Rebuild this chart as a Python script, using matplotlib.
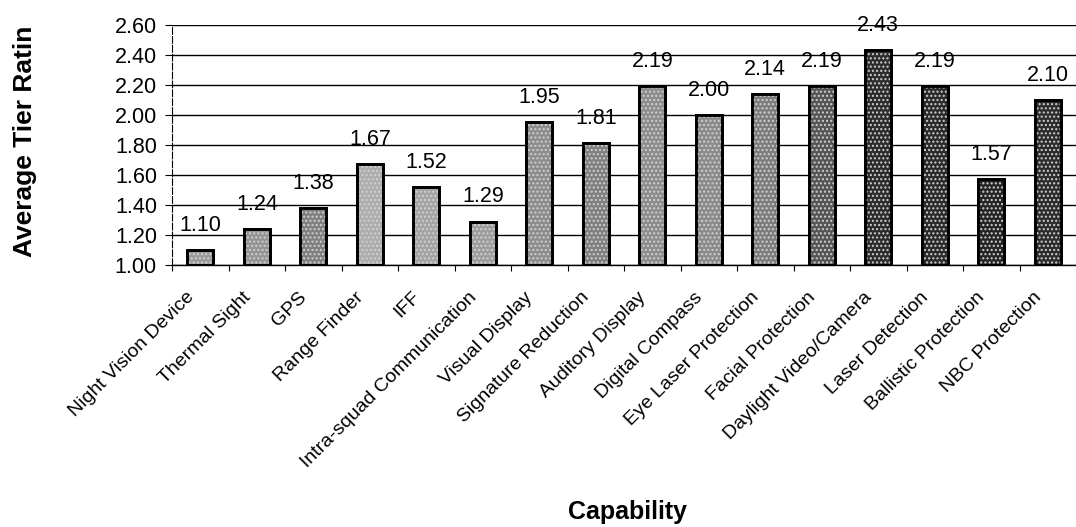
import matplotlib.pyplot as plt
from matplotlib.transforms import ScaledTranslation

plt.rcParams["font.family"] = ["Liberation Sans", "DejaVu Sans"]

capabilities = [
    "Night Vision Device", "Thermal Sight", "GPS", "Range Finder", "IFF",
    "Intra-squad Communication", "Visual Display", "Signature Reduction",
    "Auditory Display", "Digital Compass", "Eye Laser Protection",
    "Facial Protection", "Daylight Video/Camera", "Laser Detection",
    "Ballistic Protection", "NBC Protection",
]
ratings = [1.10, 1.24, 1.38, 1.67, 1.52, 1.29, 1.95, 1.81,
           2.19, 2.00, 2.14, 2.19, 2.43, 2.19, 1.57, 2.10]
y_ticks = [1.00, 1.20, 1.40, 1.60, 1.80, 2.00, 2.20, 2.40, 2.60]

# scanned grey stipple, roughly darker to the right
shades = ["#9a9a9a", "#949494", "#808080", "#adadad", "#a4a4a4", "#9c9c9c",
          "#8c8c8c", "#808080", "#8c8c8c", "#8a8a8a", "#7c7c7c", "#555555",
          "#2c2c2c", "#2a2a2a", "#242424", "#2c2c2c"]

fig = plt.figure(figsize=(10.76, 5.27), dpi=100)
ax = fig.add_axes([0.16, 0.497, 0.84, 0.456])

x = range(len(capabilities))
base = [r - 1.0 for r in ratings]
ax.bar(x, base, bottom=1.0, width=0.46, color=shades, edgecolor="black",
       linewidth=2, zorder=3)
ax.bar(x, base, bottom=1.0, width=0.46, color="none", edgecolor="#d0d0d0",
       hatch="....", linewidth=0, zorder=3)
ax.bar(x, base, bottom=1.0, width=0.46, color="none", edgecolor="black",
       linewidth=2, zorder=4)

for i, r in enumerate(ratings):
    ax.text(i, r + 0.165, f"{r:.2f}", ha="center", va="center", fontsize=15.5,
            zorder=5)

ax.set_xlim(-0.5, len(capabilities) - 0.5)
ax.set_ylim(1.0, 2.6)
ax.set_yticks(y_ticks)
ax.set_yticklabels([f"{t:.2f}" for t in y_ticks], fontsize=15.5)
ax.yaxis.grid(True, color="black", linewidth=1, zorder=0)
ax.set_axisbelow(True)

ax.set_xticks(list(x))
ax.set_xticklabels(capabilities, rotation=45, ha="right",
                   rotation_mode="anchor", fontsize=14)
ax.tick_params(axis="x", length=0, pad=17)
ax.tick_params(axis="y", length=5, pad=6)
shift = ScaledTranslation(-0.15, 0, fig.dpi_scale_trans)
for lbl in ax.get_xticklabels():
    lbl.set_transform(lbl.get_transform() + shift)
ax.set_xticks([i + 0.5 for i in range(-1, len(capabilities))], minor=True)
ax.tick_params(axis="x", which="minor", length=4, width=0.8)

for s in ["top", "right"]:
    ax.spines[s].set_visible(False)
ax.spines["left"].set_linestyle((0, (6, 2)))
ax.spines["left"].set_linewidth(0.8)
ax.spines["bottom"].set_linewidth(1)

fig.text(0.023, 0.731, "Average Tier Ratin", rotation=90, ha="center",
         va="center", fontsize=19, fontweight="bold")
fig.text(0.583, 0.028, "Capability", ha="center", va="center", fontsize=18,
         fontweight="bold")

fig.savefig("out.png", dpi=100)
